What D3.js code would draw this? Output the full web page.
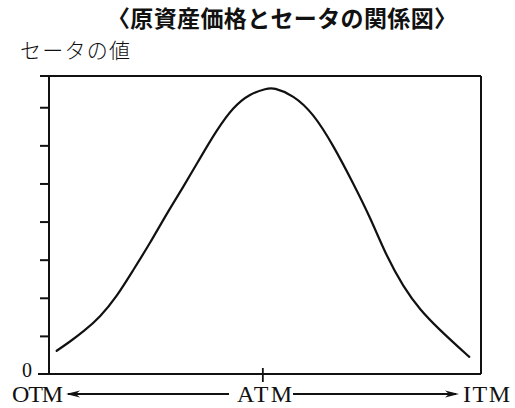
<!DOCTYPE html>
<html>
<head>
<meta charset="utf-8">
<script src="https://cdn.jsdelivr.net/npm/d3@7"></script>
<style>
  html, body { margin: 0; padding: 0; background: #fff; }
  svg { display: block; }
</style>
</head>
<body>
<svg id="chart" width="515" height="408"></svg>
<script>
// Underlying price (arbitrary units) and theta value along the curve
const price = [1.78, 4.86, 7.94, 11.81, 15.67, 19.51, 23.38, 27.25, 31.09, 34.95, 38.82, 42.66,
               46.53, 50.39, 51.92, 56.55, 61.18, 65.81, 70.44, 74.31, 78.17, 82.01, 85.88,
               90.51, 95.14, 97.29];
const theta = [0.61, 0.85, 1.11, 1.49, 2.03, 2.73, 3.43, 4.21, 4.91, 5.66, 6.40, 7.01,
               7.36, 7.49, 7.52, 7.32, 6.84, 6.00, 5.00, 4.12, 3.08, 2.29, 1.68,
               1.15, 0.67, 0.45];
const yTicks = [1, 2, 3, 4, 5, 6, 7];
const atmPrice = 49.5;
const titleText = "〈原資産価格とセータの関係図〉";
const yLabel = "セータの値";
const zeroLabel = "0";
const moneyness = ["OTM", "ATM", "ITM"];

const svg = d3.select("#chart");
const plotLeft = 49, plotRight = 481, plotTop = 76, plotBottom = 374;

const x = d3.scaleLinear().domain([0, 100]).range([plotLeft, plotRight]);
const y = d3.scaleLinear().domain([0, 7.82]).range([plotBottom, plotTop]);

const ink = "#111";

// Title
svg.append("text")
  .attr("x", 107).attr("y", 27)
  .attr("textLength", 350).attr("lengthAdjust", "spacing")
  .style("font-family", "'Noto Sans CJK JP', sans-serif")
  .style("font-weight", 700).style("font-size", "23px")
  .attr("fill", ink)
  .text(titleText);

// Y-axis label
svg.append("text")
  .attr("x", 20).attr("y", 58)
  .attr("textLength", 110).attr("lengthAdjust", "spacing")
  .style("font-family", "'Noto Sans CJK JP', sans-serif")
  .style("font-weight", 300).style("font-size", "21px")
  .attr("fill", ink)
  .text(yLabel);

// Frame: top, right, bottom lines
const frame = svg.append("g").attr("stroke", ink).attr("stroke-width", 2).attr("fill", "none");
frame.append("line").attr("x1", 40).attr("x2", plotRight).attr("y1", plotTop).attr("y2", plotTop);
frame.append("line").attr("x1", plotRight).attr("x2", plotRight).attr("y1", plotTop).attr("y2", plotBottom);
frame.append("line").attr("x1", 38).attr("x2", plotRight).attr("y1", plotBottom).attr("y2", plotBottom);

// Left axis with outward ticks, no labels
const yAxis = d3.axisLeft(y).tickValues(yTicks).tickSize(9).tickFormat("");
const gy = svg.append("g").attr("transform", `translate(${plotLeft},0)`).call(yAxis);
gy.select(".domain").remove();
gy.selectAll(".tick line").attr("stroke", ink).attr("stroke-width", 2);
svg.append("line").attr("x1", plotLeft).attr("x2", plotLeft).attr("y1", plotTop).attr("y2", plotBottom)
  .attr("stroke", ink).attr("stroke-width", 2);

// ATM tick on the bottom line
svg.append("line")
  .attr("x1", x(atmPrice)).attr("x2", x(atmPrice))
  .attr("y1", plotBottom - 6).attr("y2", plotBottom + 8)
  .attr("stroke", ink).attr("stroke-width", 1.8);

// Zero label
svg.append("text")
  .attr("x", 22).attr("y", 377)
  .style("font-family", "'Liberation Serif', serif").style("font-size", "20px")
  .attr("fill", ink).text(zeroLabel);

// Theta curve
const pts = price.map((p, i) => [p, theta[i]]);
svg.append("path")
  .datum(pts)
  .attr("fill", "none").attr("stroke", ink).attr("stroke-width", 2.2)
  .attr("stroke-linecap", "round")
  .attr("d", d3.line().x(d => x(d[0])).y(d => y(d[1])).curve(d3.curveBasis));

// Moneyness labels and arrows beneath the axis
const serif = "'Liberation Serif', 'Times New Roman', serif";
const labY = 402;
const labels = [
  { t: moneyness[0], x: 12, w: 51 },
  { t: moneyness[1], x: 237, w: 55 },
  { t: moneyness[2], x: 463, w: 47 }
];
labels.forEach(l => {
  svg.append("text")
    .attr("x", l.x).attr("y", labY)
    .attr("textLength", l.w).attr("lengthAdjust", "spacing")
    .style("font-family", serif).style("font-size", "24px")
    .attr("fill", ink).text(l.t);
});

const arrowY = 394;
svg.append("line").attr("x1", 68).attr("x2", 229).attr("y1", arrowY).attr("y2", arrowY)
  .attr("stroke", ink).attr("stroke-width", 1.8);
svg.append("line").attr("x1", 293).attr("x2", 456).attr("y1", arrowY).attr("y2", arrowY)
  .attr("stroke", ink).attr("stroke-width", 1.8);

function arrowHead(tipX, dir) {
  const len = 14, hw = 3.5, notch = 4;
  const p = [
    [tipX, arrowY],
    [tipX + dir * len, arrowY - hw],
    [tipX + dir * (len - notch), arrowY],
    [tipX + dir * len, arrowY + hw]
  ];
  svg.append("path").attr("d", "M" + p.join("L") + "Z").attr("fill", ink);
}
arrowHead(66, 1);
arrowHead(459, -1);
</script>
</body>
</html>
